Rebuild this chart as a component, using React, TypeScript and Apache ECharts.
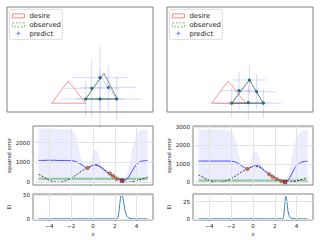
import React, { useEffect, useRef } from "react";
import * as echarts from "echarts";

// ---------- top panels (shape space) ----------
const desire = [[3.06, 0.6], [4.2, 2.12], [5.39, 0.6]];
const observedL = [[5.39, 0.89], [6.4, 2.4], [7.55, 0.89]];
const predTriL = [[5.39, 0.89], [6.64, 2.65], [7.55, 0.89]];
const predL = [[5.39, 0.89], [6.37, 0.89], [7.51, 0.89], [5.8, 1.62], [6.94, 1.69], [6.37, 2.35]];
const xerrL = [1.7, 1.7, 1.7, 1.9, 1.9, 1.9];
const yerrL = [1.2, 2.0, 1.5, 2.0, 1.5, 2.2];
const observedR = [[4.43, 0.6], [5.64, 2.19], [6.6, 0.6]];
const predTriR = [[4.43, 0.6], [5.64, 2.19], [6.6, 0.6]];
const predR = [[4.43, 0.6], [5.57, 0.64], [6.6, 0.6], [4.93, 1.46], [6.14, 1.39], [5.64, 2.19]];
const xerrR = [1.2, 1.4, 1.2, 1.3, 1.3, 1.1];
const yerrR = [1.0, 1.2, 1.0, 1.3, 1.2, 1.0];

// ---------- squared error panels ----------
const xs = [-5, -4.75, -4.5, -4.25, -4, -3.75, -3.5, -3.25, -3, -2.75, -2.5, -2.25, -2, -1.75, -1.5, -1.25, -1, -0.75, -0.5, -0.25, 0, 0.25, 0.5, 0.75, 1, 1.25, 1.5, 1.75, 2, 2.25, 2.5, 2.75, 3, 3.25, 3.5, 3.75, 4, 4.25, 4.5, 4.75, 5];
const trueF = [400, 330, 250, 170, 100, 50, 15, 0, 5, 30, 70, 130, 200, 290, 380, 480, 580, 660, 730, 800, 850, 860, 830, 760, 660, 550, 440, 340, 250, 170, 100, 40, 5, 0, 15, 40, 80, 120, 160, 210, 260];
const upperL = [2700, 2710, 2720, 2710, 2700, 2700, 2700, 2690, 2690, 2680, 2680, 2670, 2650, 2550, 2200, 1600, 1000, 750, 720, 1000, 1450, 1650, 1400, 950, 650, 500, 430, 350, 300, 230, 180, 160, 250, 700, 1400, 2000, 2400, 2600, 2650, 2660, 2660];
const meanL = [1100, 1100, 1100, 1110, 1110, 1110, 1110, 1100, 1100, 1100, 1100, 1100, 1090, 1070, 1030, 960, 870, 780, 720, 790, 860, 880, 840, 740, 620, 510, 430, 350, 280, 200, 140, 100, 120, 250, 480, 720, 900, 1020, 1070, 1090, 1100];
const obsXL = [-0.5, 1.55, 1.85, 2.15];
const obsYL = [720, 440, 310, 180];
const nextL = [2.67, 80];
const bestL = 180;
const upperR = [2850, 2860, 2860, 2850, 2850, 2850, 2840, 2840, 2840, 2830, 2820, 2800, 2750, 2500, 2000, 1400, 900, 750, 740, 1000, 1500, 1700, 1500, 1000, 650, 500, 440, 350, 280, 200, 130, 80, 100, 400, 1200, 1900, 2400, 2650, 2750, 2800, 2820];
const meanR = [1150, 1150, 1150, 1150, 1150, 1150, 1150, 1150, 1150, 1150, 1150, 1150, 1140, 1120, 1070, 980, 880, 790, 730, 800, 880, 930, 900, 790, 650, 530, 440, 350, 270, 190, 110, 60, 40, 150, 400, 700, 900, 1030, 1100, 1130, 1150];
const obsXR = [-0.52, 1.48, 1.79, 2.15, 2.6];
const obsYR = [720, 440, 300, 170, 60];
const nextR = [2.95, 20];
const bestR = 100;

// ---------- EI panels ----------
const eiXL = [-5, 2.2, 2.3, 2.4, 2.5, 2.6, 2.7, 2.8, 2.9, 3.0, 3.1, 3.2, 3.4, 3.6, 4, 5];
const eiYL = [0, 0, 3, 20, 40, 50, 48, 36, 22, 12, 6, 3, 1, 0.3, 0, 0];
const eiXR = [-5, 2.7, 2.8, 2.9, 3.0, 3.1, 3.2, 3.3, 3.4, 3.6, 4, 5];
const eiYR = [0, 0, 3, 18, 33, 26, 12, 5, 2, 0.5, 0, 0];

const xTicks = [-4, -2, 0, 2, 4];
const seTicksL = [0, 1000, 2000];
const seTicksR = [0, 1000, 2000, 3000];
const eiTicksL = [0, 50];
const eiTicksR = [0, 25];

const FONT = "DejaVu Sans";
const FRAME = "#808080";
const GRIDC = "#e3e3e3";

export default function App() {
  const ref = useRef<HTMLDivElement>(null);
  useEffect(() => {
    const chart = echarts.init(ref.current!, null, { renderer: "svg" });

    const grids = [
      { left: 7, top: 7, width: 146, height: 105 },
      { left: 167, top: 7, width: 146, height: 105 },
      { left: 33, top: 126, width: 120, height: 59 },
      { left: 193, top: 126, width: 120, height: 59 },
      { left: 33, top: 194, width: 120, height: 26 },
      { left: 193, top: 194, width: 120, height: 26 },
    ].map((g) => ({ ...g, show: true, borderColor: FRAME, borderWidth: 1, backgroundColor: "transparent", containLabel: false }));

    const hiddenAxis = (idx: number, min: number, max: number) => ({
      type: "value", gridIndex: idx, min, max, show: false,
    });
    const minus = (v: number) => String(v).replace("-", "\u2212");
    const plain = (v: number) => String(v);
    const xAx = (idx: number, labels: boolean) => ({
      type: "value", gridIndex: idx, min: -5.5, max: 5.5,
      axisLine: { show: false },
      splitLine: { show: false },
      axisTick: { show: true, length: 2, lineStyle: { color: FRAME }, customValues: xTicks },
      axisLabel: { show: labels, customValues: xTicks, formatter: minus, fontSize: 5.6, fontFamily: FONT, color: "#222", margin: 3 },
      name: labels ? "x" : "",
      nameLocation: "middle", nameGap: 11,
      nameTextStyle: { fontSize: 5.4, fontFamily: FONT, fontStyle: "italic", color: "#222" },
    });
    const yAx = (idx: number, min: number, max: number, ticks: number[], name: string) => ({
      type: "value", gridIndex: idx, min, max,
      axisLine: { show: false },
      splitLine: { show: false },
      axisTick: { show: true, length: 2, lineStyle: { color: FRAME }, customValues: ticks },
      axisLabel: { customValues: ticks, formatter: plain, fontSize: 5.6, fontFamily: FONT, color: "#222", margin: 3 },
      name, nameLocation: "middle", nameGap: 22, nameRotate: 90,
      nameTextStyle: { fontSize: 5.2, fontFamily: FONT, color: "#222" },
    });

    const gridLines = (xi: number, yTicks: number[]) => ({
      type: "line", xAxisIndex: xi, yAxisIndex: xi, data: [], silent: true,
      markLine: {
        silent: true, symbol: "none", label: { show: false }, animation: false,
        lineStyle: { color: GRIDC, width: 1, type: "solid" },
        data: [...xTicks.map((v) => ({ xAxis: v })), ...yTicks.map((v) => ({ yAxis: v }))],
      },
    });

    const closed = (pts: number[][]) => [...pts, pts[0]];

    const errSeries = (idx: number, pts: number[][], ex: number[], ey: number[]) => ({
      type: "custom", xAxisIndex: idx, yAxisIndex: idx, z: 3,
      data: pts.map((p, i) => [p[0], p[1], ex[i], ey[i]]),
      renderItem: (_p: any, api: any) => {
        const x = api.value(0), y = api.value(1), e1 = api.value(2), e2 = api.value(3);
        const c = api.coord([x, y]);
        const l = api.coord([x - e1, y]);
        const r = api.coord([x + e1, y]);
        const t = api.coord([x, y + e2]);
        const b = api.coord([x, y - e2]);
        const st = { stroke: "rgba(60,60,255,0.2)", lineWidth: 1 };
        return {
          type: "group",
          children: [
            { type: "line", shape: { x1: l[0], y1: l[1], x2: r[0], y2: r[1] }, style: st },
            { type: "line", shape: { x1: t[0], y1: t[1], x2: b[0], y2: b[1] }, style: st },
            { type: "circle", shape: { cx: c[0], cy: c[1], r: 1.6 }, style: { fill: "#1f6f9f" }, z2: 5 },
          ],
        };
      },
    });

    const shapeSeries = (idx: number, obs: number[][], tri: number[][], pred: number[][], ex: number[], ey: number[]) => [
      {
        type: "line", xAxisIndex: idx, yAxisIndex: idx, data: closed(desire), symbol: "none",
        lineStyle: { color: "rgba(255,80,80,0.6)", width: 1 },
      },
      errSeries(idx, pred, ex, ey),
      {
        type: "line", xAxisIndex: idx, yAxisIndex: idx, data: closed(tri), symbol: "none",
        lineStyle: { color: "rgba(20,20,50,0.7)", width: 0.7 },
      },
      {
        type: "line", xAxisIndex: idx, yAxisIndex: idx, data: closed(obs), symbol: "none",
        lineStyle: { color: "rgba(60,160,60,0.7)", width: 1, type: [2, 1.5] },
      },
    ];

    const seSeries = (idx: number, upper: number[], mean: number[], obsX: number[], obsY: number[], next: number[], best: number) => [
      gridLines(idx, idx === 2 ? seTicksL : seTicksR),
      {
        type: "line", xAxisIndex: idx, yAxisIndex: idx, data: xs.map((x, i) => [x, upper[i]]),
        symbol: "none", lineStyle: { width: 0 }, areaStyle: { color: "rgba(120,120,255,0.2)", origin: 0 }, smooth: 0.3,
      },
      {
        type: "line", xAxisIndex: idx, yAxisIndex: idx, data: [[-5, best], [5, best]],
        symbol: "none", lineStyle: { color: "rgba(60,170,60,0.55)", width: 2 },
      },
      {
        type: "line", xAxisIndex: idx, yAxisIndex: idx, data: xs.map((x, i) => [x, trueF[i]]),
        symbol: "none", lineStyle: { color: "#111", width: 0.8, type: [2, 1.5] }, smooth: 0.3,
      },
      {
        type: "line", xAxisIndex: idx, yAxisIndex: idx, data: xs.map((x, i) => [x, mean[i]]),
        symbol: "none", lineStyle: { color: "#3a3aff", width: 0.9 }, smooth: 0.3,
      },
      {
        type: "scatter", xAxisIndex: idx, yAxisIndex: idx, data: obsX.map((x, i) => [x, obsY[i]]),
        symbol: "circle", symbolSize: 3.5, itemStyle: { color: "#e8642a", borderColor: "#553322", borderWidth: 0.6 }, z: 5,
      },
      {
        type: "scatter", xAxisIndex: idx, yAxisIndex: idx, data: [next],
        symbol: "rect", symbolSize: 3.5, itemStyle: { color: "#cc1133", borderColor: "#331111", borderWidth: 0.6 }, z: 6,
      },
    ];

    const eiSeries = (idx: number, ex: number[], ey: number[], ticks: number[]) => [
      gridLines(idx, ticks),
      {
        type: "line", xAxisIndex: idx, yAxisIndex: idx, data: ex.map((x, i) => [x, ey[i]]),
        symbol: "none", lineStyle: { color: "#1f77b4", width: 0.9 }, smooth: 0.3,
      },
    ];

    const legend = (ox: number) => ({
      type: "group", left: ox + 9, top: 9,
      children: [
        { type: "rect", shape: { x: 0, y: 0, width: 53, height: 30, r: 2 }, style: { fill: "rgba(255,255,255,0.85)", stroke: "#d6d6d6", lineWidth: 0.8 } },
        { type: "rect", shape: { x: 3, y: 4.5, width: 12, height: 4 }, style: { fill: "none", stroke: "rgba(255,80,80,0.7)", lineWidth: 1 } },
        { type: "rect", shape: { x: 3, y: 13.5, width: 12, height: 4 }, style: { fill: "none", stroke: "rgba(60,160,60,0.7)", lineWidth: 1, lineDash: [2, 1.5] } },
        { type: "line", shape: { x1: 6, y1: 24, x2: 12, y2: 24 }, style: { stroke: "rgba(60,60,255,0.3)", lineWidth: 1 } },
        { type: "line", shape: { x1: 9, y1: 21, x2: 9, y2: 27 }, style: { stroke: "rgba(60,60,255,0.3)", lineWidth: 1 } },
        { type: "circle", shape: { cx: 9, cy: 24, r: 1.2 }, style: { fill: "rgba(60,60,255,0.5)" } },
        { type: "text", x: 20, y: 6.5, style: { text: "desire", fontSize: 6.8, fontFamily: FONT, fill: "#222", verticalAlign: "middle" } },
        { type: "text", x: 20, y: 15.5, style: { text: "observed", fontSize: 6.8, fontFamily: FONT, fill: "#222", verticalAlign: "middle" } },
        { type: "text", x: 20, y: 24.5, style: { text: "predict", fontSize: 6.8, fontFamily: FONT, fill: "#222", verticalAlign: "middle" } },
      ],
    });

    chart.setOption({
      animation: false,
      grid: grids,
      xAxis: [
        hiddenAxis(0, 0, 10), hiddenAxis(1, 0, 10),
        xAx(2, false), xAx(3, false), xAx(4, true), xAx(5, true),
      ],
      yAxis: [
        hiddenAxis(0, 0, 7.19), hiddenAxis(1, 0, 7.19),
        yAx(2, -140, 2840, seTicksL, "squared error"),
        yAx(3, -145, 3045, seTicksR, "squared error"),
        yAx(4, -2.5, 52.5, eiTicksL, "EI"),
        yAx(5, -1.7, 36, eiTicksR, "EI"),
      ],
      series: [
        ...shapeSeries(0, observedL, predTriL, predL, xerrL, yerrL),
        ...shapeSeries(1, observedR, predTriR, predR, xerrR, yerrR),
        ...seSeries(2, upperL, meanL, obsXL, obsYL, nextL, bestL),
        ...seSeries(3, upperR, meanR, obsXR, obsYR, nextR, bestR),
        ...eiSeries(4, eiXL, eiYL, eiTicksL),
        ...eiSeries(5, eiXR, eiYR, eiTicksR),
      ],
      graphic: [legend(0), legend(160)],
    });
    return () => chart.dispose();
  }, []);
  return <div ref={ref} style={{ position: "absolute", left: 0, top: 0, width: 320, height: 240 }} />;
}
